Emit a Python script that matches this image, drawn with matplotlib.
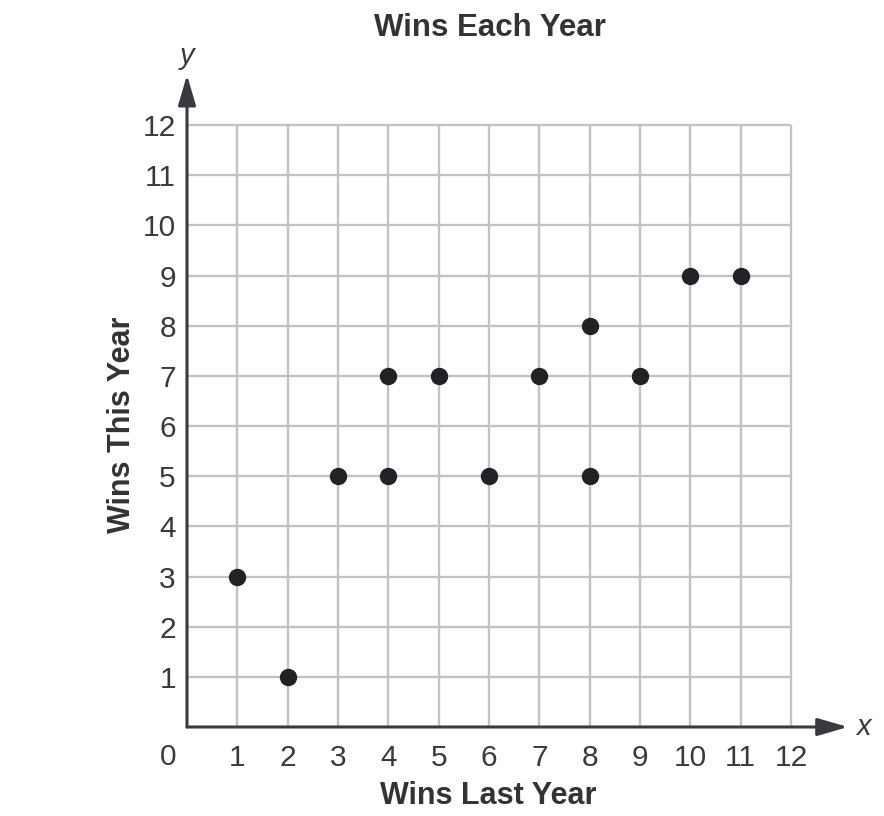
import matplotlib
matplotlib.use("Agg")
import matplotlib.pyplot as plt

title = "Wins Each Year"
xlabel = "Wins Last Year"
ylabel = "Wins This Year"
wins_last_year = [1, 2, 3, 4, 4, 5, 6, 7, 8, 8, 9, 10, 11]
wins_this_year = [3, 1, 5, 5, 7, 7, 5, 7, 8, 5, 7, 9, 9]
x_ticks = list(range(1, 13))
y_ticks = list(range(1, 13))

plt.rcParams['font.family'] = ['Liberation Sans', 'DejaVu Sans']
text_color = '#3a3a3a'

fig = plt.figure(figsize=(8.84, 8.16), dpi=100)
ax = fig.add_axes([187/884, 89/816, 609/884, 607/816])
ax.set_xlim(0, 12.1)
ax.set_ylim(0, 12.1)

for s in ax.spines.values():
    s.set_visible(False)

ax.set_xticks(x_ticks)
ax.set_yticks(y_ticks)
ax.set_xticklabels([str(t) for t in x_ticks])
ax.set_yticklabels([str(t) for t in y_ticks])
ax.tick_params(axis='both', length=0, labelsize=21.5, labelcolor=text_color)
ax.tick_params(axis='x', pad=12)
ax.tick_params(axis='y', pad=8)

# grid lines stopping at 12
ax.vlines(x_ticks, 0, max(y_ticks), colors='#c2c2c2', linewidth=1.7, zorder=1)
ax.hlines(y_ticks, 0, max(x_ticks), colors='#c2c2c2', linewidth=1.7, zorder=1)

# origin label
ax.text(-0.37, -0.6, "0", fontsize=21.5, color=text_color, ha='center', va='center')

# axis arrows
arrow_kw = dict(arrowstyle='-|>,head_length=18.5,head_width=5.4', color='#3a3a3e',
                lw=2.2, shrinkA=0, shrinkB=0, mutation_scale=1)
ax.annotate('', xy=(13.13, 0), xytext=(0, 0), xycoords='data',
            arrowprops=arrow_kw, annotation_clip=False)
ax.annotate('', xy=(0, 13.0), xytext=(0, 0), xycoords='data',
            arrowprops=arrow_kw, annotation_clip=False)

ax.text(13.45, 0, "x", fontsize=21, style='italic', color=text_color,
        ha='center', va='center')
ax.text(0, 13.37, "y", fontsize=21, style='italic', color=text_color,
        ha='center', va='center')

ax.plot(wins_last_year, wins_this_year, 'o', color='#222226', markersize=11.5,
        clip_on=False, zorder=5)

fig.text(490/884, 1 - 28/816, title, fontsize=22.5, fontweight='bold',
         color='#333333', ha='center', va='center')
fig.text(488/884, 1 - 796/816, xlabel, fontsize=22, fontweight='bold',
         color='#333333', ha='center', va='center')
fig.text(122/884, 1 - 425/816, ylabel, fontsize=22, fontweight='bold',
         color='#333333', ha='center', va='center', rotation=90)

fig.savefig("out.png", dpi=100, facecolor='white')
